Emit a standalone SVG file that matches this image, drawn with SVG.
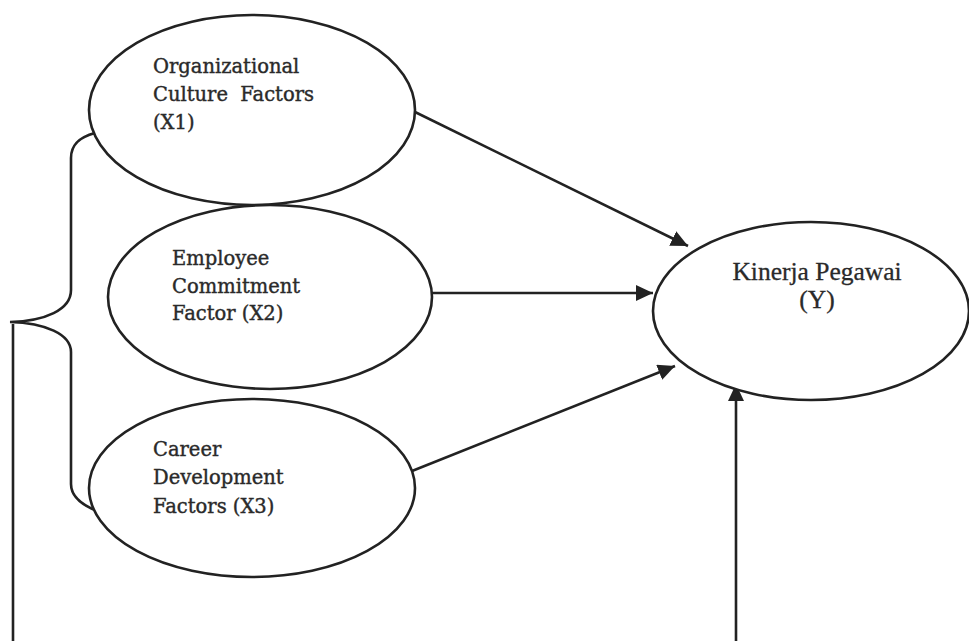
<svg xmlns="http://www.w3.org/2000/svg" width="969" height="641" viewBox="0 0 969 641">
<style>
.node{fill:#fff;stroke:#222;stroke-width:2.6}
.ln{fill:none;stroke:#222;stroke-width:2.6}
.lbl{font-family:"DejaVu Serif",serif;font-size:19.5px;fill:#2a2a2a;stroke:#2a2a2a;stroke-width:0.4}
.ylbl{font-family:"Liberation Serif","Times New Roman",serif;font-size:25.5px;fill:#2a2a2a;stroke:#2a2a2a;stroke-width:0.3;text-anchor:middle}
</style>
<defs>
<marker id="ah" markerUnits="userSpaceOnUse" markerWidth="18" markerHeight="16" refX="17" refY="8" orient="auto">
<path d="M0,0 L17,8 L0,16 z" fill="#222"/>
</marker>
</defs>
<rect width="969" height="641" fill="#fff"/>
<g id="connectors">
<line class="ln" x1="415" y1="112" x2="688" y2="246" marker-end="url(#ah)"/>
<line class="ln" x1="432" y1="293" x2="653" y2="293" marker-end="url(#ah)"/>
<line class="ln" x1="407" y1="473" x2="675" y2="366" marker-end="url(#ah)"/>
<line class="ln" x1="736" y1="641" x2="736" y2="384" marker-end="url(#ah)"/>
<path class="ln" d="M95,133 C80,137 71,144 71,158 L71,290 C71,310 45,321 10,322 C45,323 71,334 71,352 L71,484 C71,496 82,505 97,511"/>
<line class="ln" x1="13" y1="324" x2="13" y2="641"/>
</g>
<g id="x1">
<ellipse class="node" cx="252" cy="110" rx="163" ry="95"/>
<text class="lbl" x="153" y="73">Organizational</text>
<text class="lbl" x="153" y="101" xml:space="preserve">Culture  Factors</text>
<text class="lbl" x="153" y="129">(X1)</text>
</g>
<g id="x2">
<ellipse class="node" cx="270" cy="297" rx="162" ry="92"/>
<text class="lbl" x="172" y="265">Employee</text>
<text class="lbl" x="172" y="293">Commitment</text>
<text class="lbl" x="172" y="320">Factor (X2)</text>
</g>
<g id="x3">
<ellipse class="node" cx="252" cy="488" rx="163" ry="89"/>
<text class="lbl" x="153" y="456">Career</text>
<text class="lbl" x="153" y="484">Development</text>
<text class="lbl" x="153" y="513">Factors (X3)</text>
</g>
<g id="y">
<ellipse class="node" cx="811" cy="311" rx="158" ry="89"/>
<text class="ylbl" x="817" y="280">Kinerja Pegawai</text>
<text class="ylbl" x="817" y="308">(Y)</text>
</g>
</svg>
